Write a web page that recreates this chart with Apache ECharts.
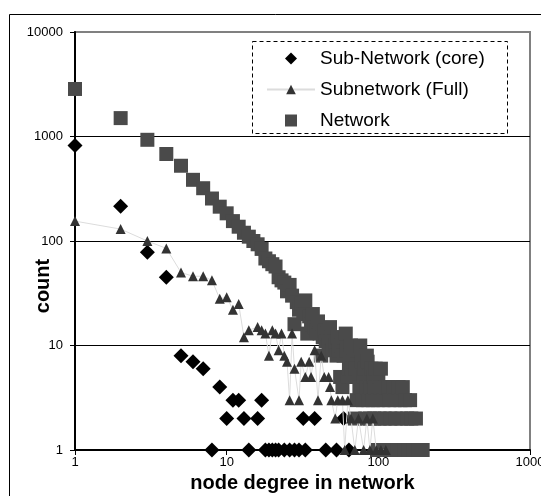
<!DOCTYPE html>
<html>
<head>
<meta charset="utf-8">
<style>
  html, body { margin: 0; padding: 0; background: #fff; }
  #chart { width: 541px; height: 496px; }
</style>
<script src="https://cdn.jsdelivr.net/npm/echarts@6/dist/echarts.min.js"></script>
</head>
<body>
<div id="chart"></div>
<script>
// Sub-Network (core)
const coreDeg = [1, 2, 3, 4, 5, 6, 7, 8, 9, 10, 11, 12, 13, 14, 16, 17, 18, 19, 20, 21, 22, 24, 26, 28, 30, 32, 33, 38, 45, 53, 59, 64];
const coreCnt = [820, 215, 78, 45, 8, 7, 6, 1, 4, 2, 3, 3, 2, 1, 2, 3, 1, 1, 1, 1, 1, 1, 1, 1, 1, 2, 1, 2, 1, 1, 2, 1];

// Subnetwork (Full)
const fullDeg = [1, 2, 3, 4, 5, 6, 7, 8, 9, 10, 11, 12, 13, 14, 16, 17, 18, 19, 20, 21, 22, 23, 24, 25, 26, 27, 28, 30, 31, 33, 35, 36, 38, 40, 42, 44, 47, 48, 49, 52, 54, 58, 60, 63, 66, 70, 74, 80, 84, 88, 92, 97, 104, 112];
const fullCnt = [155, 130, 100, 85, 50, 46, 46, 42, 28, 29, 22, 25, 12, 14, 15, 14, 13, 8, 14, 13, 9, 13, 8, 7, 3, 13, 6, 3, 7, 5, 7, 5, 9, 3, 8, 5, 5, 4, 3, 2, 3, 3, 1, 3, 2, 1, 2, 1, 2, 1, 2, 1, 1, 1];

// Network
const netDeg = [1, 2, 3, 4, 5, 6, 7, 8, 9, 10, 11, 12, 13, 14, 15, 16, 17, 18, 19, 20,
  21, 22, 23, 24, 25, 26, 27, 28, 29, 30, 31, 32, 33, 34, 35, 36, 37, 38, 39, 40,
  41, 42, 43, 44, 45, 46, 47, 48, 49, 50, 51, 52, 53, 54, 55, 56, 57, 58, 59, 60,
  61, 62, 63, 64, 65, 66, 67, 68, 69, 70, 71, 72, 73, 74, 75, 76, 77, 78, 79, 80,
  81, 82, 83, 84, 85, 86, 87, 88, 89, 90, 92, 93, 94, 95, 96, 98, 99, 100, 102, 103,
  104, 106, 108, 110, 112, 114, 116, 118, 120, 122, 125, 128, 130, 133, 136, 140, 142, 145, 148, 150,
  155, 158, 162, 165, 170, 177, 185, 196];
const netCnt = [2850, 1500, 930, 680, 525, 385, 320, 255, 213, 184, 155, 137, 120, 110, 100, 93, 84, 68, 64, 60,
  57, 45, 42, 40, 33, 38, 30, 16, 26, 22, 25, 20, 27, 13, 19, 16, 20, 15, 14, 17,
  13, 8, 12, 14, 11, 13, 10, 15, 12, 9, 11, 10, 8, 12, 9, 5, 10, 4, 8, 12,
  13, 9, 5, 6, 8, 10, 6, 5, 7, 2, 6, 3, 9, 5, 4, 10, 4, 7, 3, 5,
  6, 2, 4, 8, 7, 3, 5, 2, 4, 6, 3, 5, 2, 4, 6, 1, 3, 5, 2, 4,
  6, 1, 3, 2, 4, 1, 4, 3, 2, 1, 4, 3, 2, 1, 4, 3, 2, 4, 1, 3,
  2, 1, 3, 2, 1, 2, 1, 1];

const xTicks = [1, 10, 100, 1000];
const yTicks = [1, 10, 100, 1000, 10000];

const FONT = '"Liberation Sans", Arial, sans-serif';

// path icons so the legend keeps their aspect instead of stretching them
const DIAMOND_ICON = 'path://M5,0L10,5L5,10L0,5Z';
const SQUARE_ICON = 'path://M0,0L10,0L10,10L0,10Z';

function pairs(xs, ys) {
  return xs.map((x, i) => [x, ys[i]]);
}

const chart = echarts.init(document.getElementById('chart'), null, { renderer: 'canvas' });

chart.setOption({
  animation: false,
  backgroundColor: '#fff',
  grid: {
    left: 75, right: 11, top: 32, bottom: 46,
    outerBoundsMode: 'none',
    show: true,
    borderColor: '#808080',
    borderWidth: 2
  },
  xAxis: {
    type: 'log',
    logBase: 10,
    min: xTicks[0],
    max: xTicks[xTicks.length - 1],
    name: 'node degree in network',
    nameLocation: 'middle',
    nameGap: 21,
    nameTextStyle: { fontFamily: FONT, fontSize: 20, fontWeight: 'bold', color: '#000' },
    axisLine: { lineStyle: { color: '#000', width: 2 } },
    axisTick: { show: true, length: 5, lineStyle: { color: '#000' } },
    minorTick: { show: false },
    splitLine: { show: false },
    axisLabel: {
      fontFamily: FONT, fontSize: 13, color: '#000', margin: 6,
      formatter: v => String(Math.round(v))
    }
  },
  yAxis: {
    type: 'log',
    logBase: 10,
    min: yTicks[0],
    max: yTicks[yTicks.length - 1],
    axisLine: { show: true, lineStyle: { color: '#000', width: 2 } },
    axisTick: { show: true, length: 5, lineStyle: { color: '#000' } },
    splitLine: {
      show: true,
      lineStyle: { color: ['#000', '#000', '#000', '#000', '#808080'], width: 1 }
    },
    axisLabel: {
      fontFamily: FONT, fontSize: 13, color: '#000', margin: 12,
      formatter: v => String(Math.round(v))
    }
  },
  legend: {
    orient: 'vertical',
    left: 261,
    top: 44,
    z: 10,
    itemWidth: 48,
    itemHeight: 12,
    itemGap: 12,
    symbolKeepAspect: true,
    textStyle: { fontFamily: FONT, fontSize: 19, lineHeight: 18, color: '#000' },
    data: [
      { name: 'Sub-Network (core)', icon: DIAMOND_ICON },
      { name: 'Subnetwork (Full)' },
      { name: 'Network', icon: SQUARE_ICON }
    ]
  },
  graphic: [
    {
      type: 'rect',
      z: 1,
      shape: { x: 9.5, y: 14.5, width: 560, height: 500 },
      style: { fill: null, stroke: '#000', lineWidth: 1 }
    },
    {
      type: 'rect',
      z: 5,
      shape: { x: 252.5, y: 41.5, width: 255, height: 92 },
      style: { fill: '#fff', stroke: '#000', lineWidth: 1, lineDash: [4, 3] }
    },
    {
      type: 'text',
      z: 5,
      x: 43,
      y: 286,
      rotation: Math.PI / 2,
      style: {
        text: 'count',
        fontFamily: FONT,
        fontSize: 20,
        fontWeight: 'bold',
        fill: '#000',
        align: 'center',
        verticalAlign: 'middle'
      }
    }
  ],
  series: [
    {
      name: 'Sub-Network (core)',
      type: 'scatter',
      symbol: 'diamond',
      symbolSize: 15,
      itemStyle: { color: '#000', opacity: 1 },
      data: pairs(coreDeg, coreCnt)
    },
    {
      name: 'Subnetwork (Full)',
      type: 'line',
      symbol: 'triangle',
      symbolSize: 10,
      showAllSymbol: true,
      itemStyle: { color: '#333', opacity: 1 },
      lineStyle: { color: '#dcdcdc', width: 1 },
      data: pairs(fullDeg, fullCnt)
    },
    {
      name: 'Network',
      type: 'scatter',
      symbol: 'rect',
      symbolSize: 14,
      itemStyle: { color: '#4a4a4a', opacity: 1 },
      data: pairs(netDeg, netCnt)
    }
  ]
});
</script>
</body>
</html>
